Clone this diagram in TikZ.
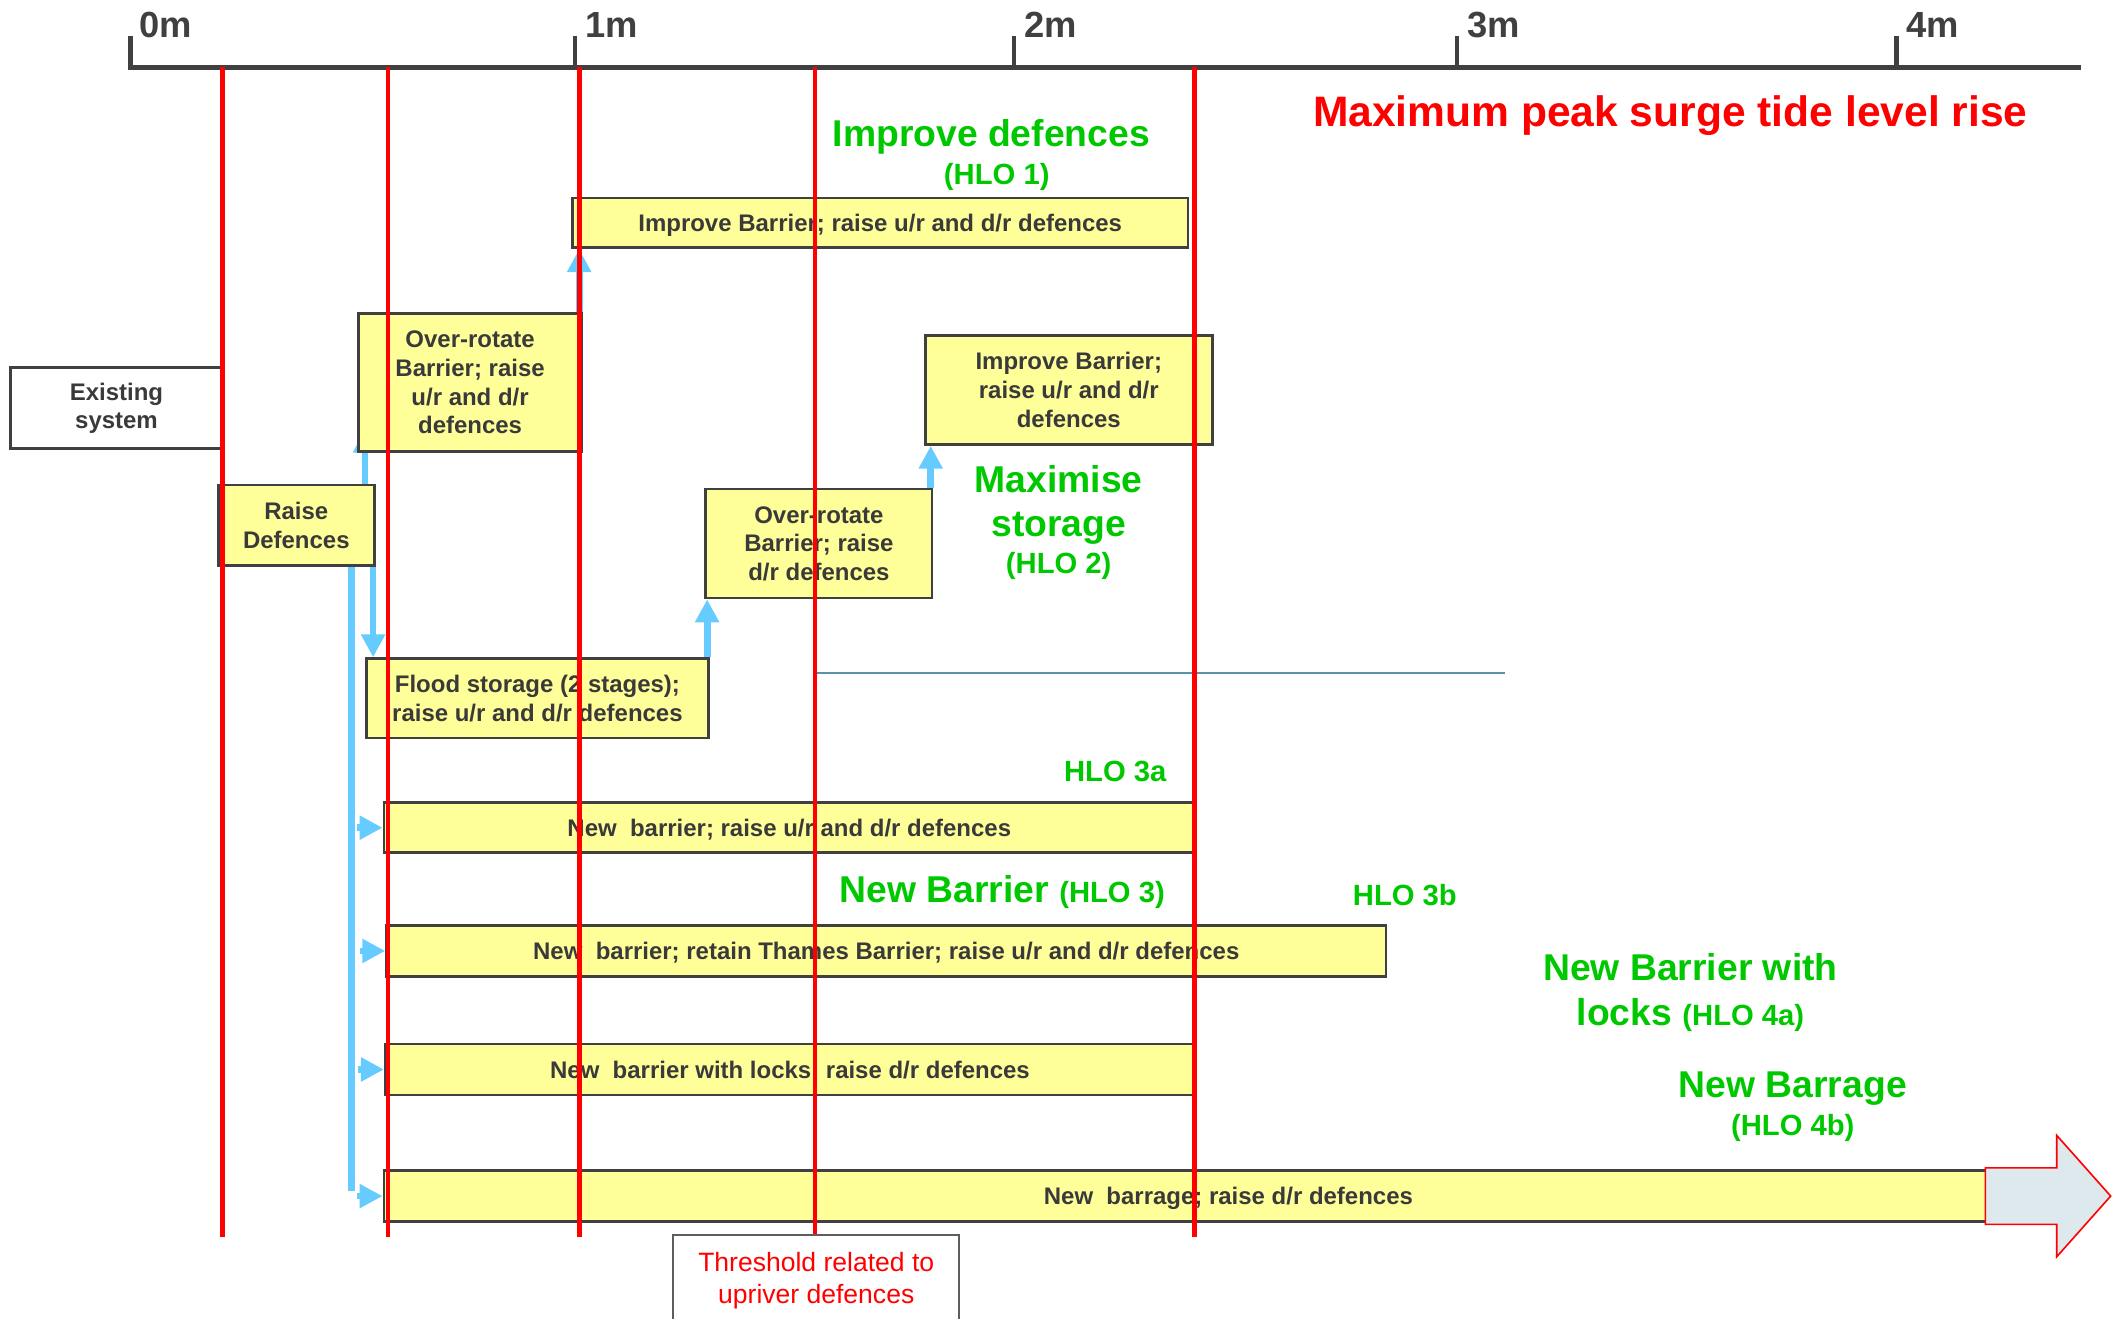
\documentclass[tikz,border=0pt]{standalone}
\usepackage{fontspec}
\setmainfont{Liberation Sans}
\usetikzlibrary{arrows.meta,calc,backgrounds}
\definecolor{hlogreen}{RGB}{0,200,0}
\definecolor{boxfill}{RGB}{255,255,153}
\definecolor{boxline}{RGB}{64,64,64}
\definecolor{txtgray}{RGB}{58,58,58}
\definecolor{lblue}{RGB}{102,204,255}
\definecolor{thinline}{RGB}{90,147,168}
\definecolor{arrfill}{RGB}{222,233,238}
\tikzset{
 ybox/.style={draw=boxline, line width=1pt, fill=boxfill, inner sep=0pt, align=center, text=txtgray, font=\fontsize{8.9}{10.6}\selectfont\bfseries},
 onebox/.style={ybox, text depth=0pt},
 wbox/.style={ybox, fill=white},
 boxtext/.style={inner sep=0pt, text depth=0pt, text=txtgray, font=\fontsize{8.9}{10.6}\selectfont\bfseries},
 redline/.style={draw=red, line width=1.75pt},
 barrow/.style={draw=lblue, line width=2.5pt, -{Triangle[width=8.5pt,length=8.5pt]}},
 bline/.style={draw=lblue, line width=2.5pt},
 gbig/.style={text=hlogreen, font=\fontsize{13.85}{16.5}\selectfont\bfseries, inner sep=0pt, anchor=base},
 gsmall/.style={text=hlogreen, font=\fontsize{10.85}{13}\selectfont\bfseries, inner sep=0pt, anchor=base},
 axlbl/.style={text=boxline, font=\fontsize{13.5}{16}\selectfont\bfseries, inner sep=0pt, anchor=base west},
}
\newcommand\smallhlo[1]{{\fontsize{10.85}{13}\selectfont #1}}
\begin{document}
\begin{tikzpicture}[x=0.5pt,y=-0.5pt]
\useasboundingbox (0,0) rectangle (1568,979);
\clip (0,0) rectangle (1568,979);

% axis
\draw[boxline, line width=1.75pt] (97,27) -- (97,50) -- (1545,50);
\draw[boxline, line width=1.5pt] (427,27) -- (427,50);
\draw[boxline, line width=1.5pt] (753,27) -- (753,50);
\draw[boxline, line width=1.5pt] (1082,27) -- (1082,50);
\draw[boxline, line width=1.5pt] (1408,27) -- (1408,50);
\node[axlbl] (l0) at (103,28) {0m};
\node[axlbl] (l1) at (434,28) {1m};
\node[axlbl] (l2) at (760,28) {2m};
\node[axlbl] (l3) at (1089,28) {3m};
\node[axlbl] (l4) at (1415,28) {4m};

\node[text=red, font=\fontsize{15.8}{19}\selectfont\bfseries, anchor=base, inner sep=0pt] (title) at (1240,94) {Maximum peak surge tide level rise};

% boxes
\node[onebox, minimum width=228.5pt, minimum height=18.5pt] (ib1) at (653.5,165.5) {Improve Barrier; raise u/r and d/r defences};
\node[wbox, minimum width=78.5pt, minimum height=30pt] (ex) at (86.5,303) {Existing\\system};
\node[ybox, minimum width=83pt, minimum height=51pt] (ov1) at (349,284) {Over-rotate\\Barrier; raise\\u/r and d/r\\defences};
\node[ybox, minimum width=58pt, minimum height=30pt] (rd) at (220,390) {Raise\\Defences};
\node[ybox, minimum width=106.5pt, minimum height=40.5pt] (ib2) at (793.5,289.5) {Improve Barrier;\\raise u/r and d/r\\defences};
\node[ybox, minimum width=84pt, minimum height=40.5pt] (ov2) at (608,403.5) {Over-rotate\\Barrier; raise\\d/r defences};
\node[ybox, minimum width=127pt, minimum height=29.5pt] (fs) at (399,518.5) {Flood storage (2 stages);\\raise u/r and d/r defences};
\node[onebox, minimum width=301pt, minimum height=18.5pt] (nb1) at (586,614.5) {New\ \ barrier; raise u/r and d/r defences};
\node[onebox, minimum width=371pt, minimum height=19pt] (nb2) at (658,706) {New\ \ barrier; retain Thames Barrier; raise u/r and d/r defences};
\node[onebox, minimum width=300.5pt, minimum height=19pt] (nb3) at (586.5,794) {New\ \ barrier with locks; raise d/r defences};
\node[ybox, minimum width=595pt, minimum height=19pt] (nb4) at (880,888) {};
\node[boxtext] (nb4t) at (912,888) {New\ \ barrage; raise d/r defences};

% big arrow at end of barrage
\draw[red, line width=0.6pt, fill=arrfill] (1474,867) -- (1527,867) -- (1527,843) -- (1567,888) -- (1527,933) -- (1527,909) -- (1474,909) -- cycle;

% blue connectors
\begin{pgfonlayer}{background}
\draw[barrow, shorten >=-8.5pt] ($(ov1.south west |- rd.north)+(6,0)$) -- ($(ov1.south west)+(6,0)$);
\end{pgfonlayer}
\draw[barrow] ($(ov1.north east)+(-3,0)$) -- ($(ov1.north east |- ib1.south)+(-3,0)$);
\draw[barrow] ($(rd.south east)+(-2,0)$) -- ($(rd.south east |- fs.north)+(-2,0)$);
\draw[bline] ($(rd.south east)+(-18,0)$) -- ($(rd.south east |- nb4.west)+(-18,-4)$);
\draw[barrow] ($(nb1.west)+(-19,0)$) -- (nb1.west);
\draw[barrow] ($(nb2.west)+(-19,0)$) -- (nb2.west);
\draw[barrow] ($(nb3.west)+(-19,0)$) -- (nb3.west);
\draw[barrow] ($(nb4.west)+(-19,0)$) -- (nb4.west);
\draw[barrow] ($(fs.north east)+(-2,0)$) -- ($(fs.north east |- ov2.south)+(-2,0)$);
\draw[barrow] ($(ov2.north east)+(-2,0)$) -- ($(ov2.north east |- ib2.south)+(-2,0)$);

% thin line
\draw[thinline, line width=0.75pt] (605,500) -- (1117,500);

% red threshold lines
\draw[redline] (165,50) -- (165,918);
\draw[redline] (288,50) -- (288,918);
\draw[redline] (430,50) -- (430,918);
\draw[redline] (605,50) -- (605,918);
\draw[redline] (887,50) -- (887,918);

% threshold box
\node[draw=boxline!85, line width=0.75pt, fill=white, minimum width=106pt, minimum height=34pt, inner sep=0pt, align=center, text=red, font=\fontsize{9.85}{12}\selectfont] (thr) at (606,951) {Threshold related to\\upriver defences};

% green labels
\node[gbig] (hlo1a) at (736,109) {Improve defences};
\node[gsmall] (hlo1b) at (740,137) {(HLO 1)};
\node[gbig] (hlo2a) at (786,366) {Maximise};
\node[gbig] (hlo2b) at (786,398) {storage};
\node[gsmall] (hlo2c) at (786,426) {(HLO 2)};
\node[gsmall] (hlo3a) at (828,580) {HLO 3a};
\node[gbig] (hlo3) at (744,670) {New Barrier \smallhlo{(HLO 3)}};
\node[gsmall] (hlo3b) at (1043,672) {HLO 3b};
\node[gbig] (hlo4a1) at (1255,728) {New Barrier with};
\node[gbig] (hlo4a2) at (1255,761) {locks \smallhlo{(HLO 4a)}};
\node[gbig] (hlo4b1) at (1331,815) {New Barrage};
\node[gsmall] (hlo4b2) at (1331,843) {(HLO 4b)};
\end{tikzpicture}
\end{document}
